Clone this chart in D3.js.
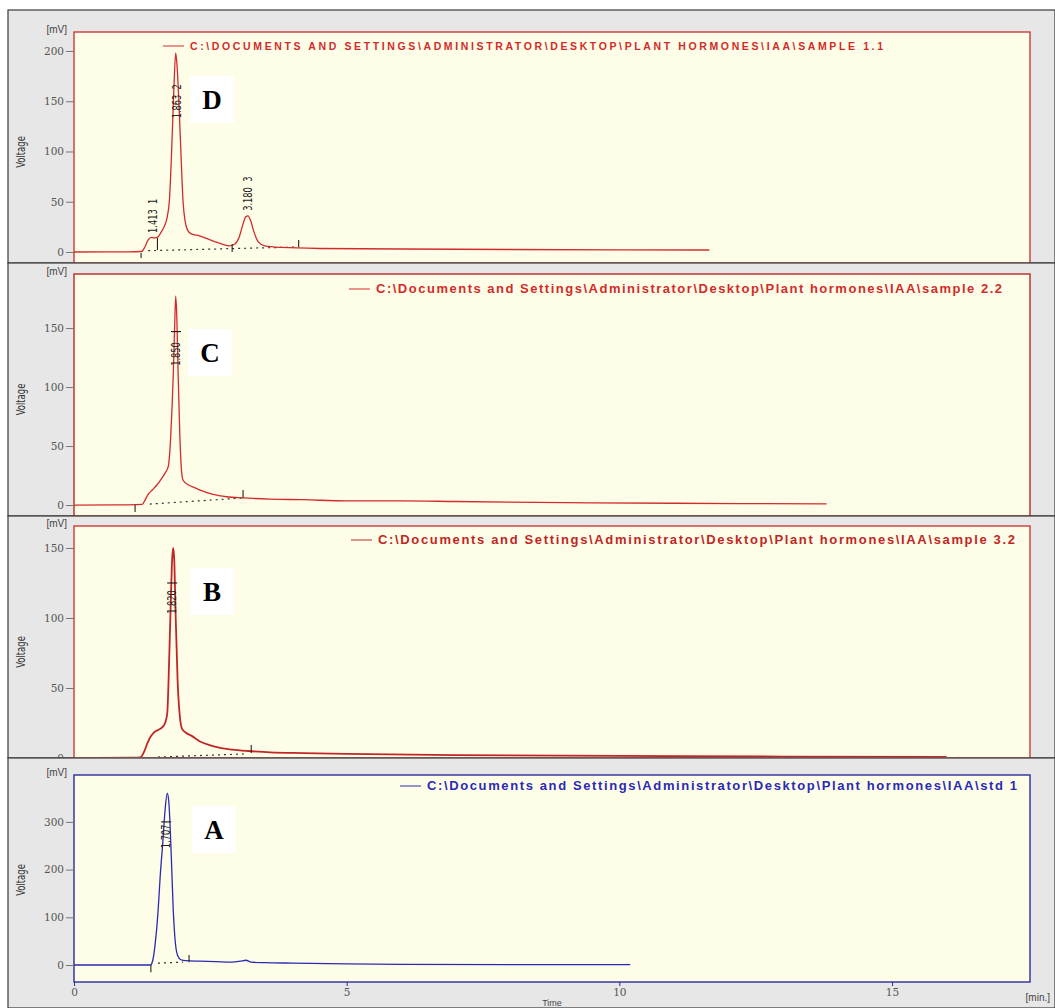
<!DOCTYPE html>
<html>
<head>
<meta charset="utf-8">
<script src="https://cdn.jsdelivr.net/npm/d3@7"></script>
<style>
  body { margin: 0; background: #fff; }
  svg { display: block; }
</style>
</head>
<body>
<svg id="chart" width="1055" height="1008"></svg>
<script>
// ---- data: [time (min), signal (mV)] ----
const timeTicks = [0, 5, 10, 15]

const sample11 = [[0,0],[1.0,0.2],[1.24,0.5],[1.30,5],[1.36,12],[1.42,14.5],[1.48,14],[1.54,15],[1.60,20],[1.66,26],[1.71,35],[1.75,52],[1.79,100],[1.83,160],[1.865,198],[1.89,185],[1.93,140],[1.96,100],[2.0,50],[2.04,30],[2.08,22],[2.15,18],[2.3,16],[2.45,13],[2.65,9],[2.85,6],[2.95,8],[3.03,15],[3.10,28],[3.15,35],[3.19,36],[3.24,31],[3.30,20],[3.38,10],[3.5,6],[3.8,4.5],[4.5,3.5],[6,3],[8,2.5],[10,2.2],[11.65,2]]
const sample22 = [[0,0],[1.0,0.2],[1.25,0.5],[1.30,4],[1.36,9],[1.44,13],[1.52,17],[1.60,22],[1.67,27],[1.73,33],[1.77,55],[1.80,85],[1.82,110],[1.845,150],[1.865,177],[1.885,160],[1.91,110],[1.94,60],[1.97,30],[2.0,21],[2.1,17],[2.2,15],[2.35,12],[2.55,9],[2.8,7],[3.1,6],[3.6,5],[4.2,4.5],[5,3.5],[6,3.5],[7,3],[9,2],[11,1.5],[13.8,1]]
const sample32 = [[0,0],[1.1,0.2],[1.22,0.5],[1.28,4],[1.34,10],[1.40,15],[1.46,18],[1.54,20],[1.62,22],[1.67,25],[1.71,32],[1.745,70],[1.77,105],[1.80,142],[1.82,150],[1.84,140],[1.865,100],[1.90,55],[1.94,30],[1.98,21],[2.05,18],[2.15,16],[2.3,12],[2.5,9],[2.7,7],[2.9,6],[3.2,5],[3.6,4],[4.2,3.5],[5,3],[7,2],[10,1.5],[13,1],[16,0.8]]
const std1 = [[0,0],[1.0,0],[1.40,0],[1.44,8],[1.49,46],[1.54,110],[1.58,185],[1.63,260],[1.67,325],[1.71,360],[1.74,340],[1.78,240],[1.82,115],[1.86,45],[1.90,20],[1.96,11],[2.05,9],[2.3,8],[2.6,7],[2.9,6],[3.05,8],[3.15,10],[3.25,6],[3.5,5],[4,4],[5,2.5],[6,1.5],[8,1],[10.2,1]]

// integration baselines (dotted) and marker ticks [t, v0, v1]
const baseD = [[1.36,1.3],[4.12,5]]
const baseC = [[1.39,0.8],[3.10,6]]
const baseB = [[1.54,0.7],[3.14,2.9]]
const baseA = [[1.54,4],[2.0,6]]
const ticksD = [[1.23,-1,-6],[1.53,14,2],[2.9,8,0],[4.12,12,5]]
const ticksC = [[1.12,0,-6],[3.10,12.7,6]]
const ticksB = [[3.25,9.3,3.6]]
const ticksA = [[1.41,0,-15],[2.11,21,6]]

// peak labels: retention time text, anchored at [t, v]
const peaksD = [{t:1.45, v:19, text:'1.413  1'}, {t:1.89, v:133, text:'1.863  2'}, {t:3.19, v:41, text:'3.180  3'}]
const peaksC = [{t:1.87, v:118, text:'1.850', bar:147}]
const peaksB = [{t:1.80, v:103, text:'1.820', bar:125}]
const peaksA = [{t:1.69, v:245, text:'1.707', bar:300}]

const legendD = 'C:\\DOCUMENTS AND SETTINGS\\ADMINISTRATOR\\DESKTOP\\PLANT HORMONES\\IAA\\SAMPLE 1.1'
const legendC = 'C:\\Documents and Settings\\Administrator\\Desktop\\Plant hormones\\IAA\\sample 2.2'
const legendB = 'C:\\Documents and Settings\\Administrator\\Desktop\\Plant hormones\\IAA\\sample 3.2'
const legendA = 'C:\\Documents and Settings\\Administrator\\Desktop\\Plant hormones\\IAA\\std 1'

const red = '#d22b2b', blue = '#2a2ab4'
const narrow = '"Liberation Sans Narrow", "DejaVu Sans Condensed", "Liberation Sans", sans-serif'

// panel layout (pixels)
const panels = [
  { letter: 'D', top: 10, bottom: 263, plotTop: 32, plotBottom: 263, yDomain: [-10.95, 218.9], yTicks: [0,50,100,150,200],
    data: sample11, base: baseD, ticks: ticksD, peaks: peaksD, color: red, border: '#c83a3a',
    legend: legendD, legendX: 163, legendY: 46, legendW: 693, maxSize: 10.5, box: [190, 76] },
  { letter: 'C', top: 263, bottom: 516, plotTop: 274, plotBottom: 516, yDomain: [-9.3, 195.8], yTicks: [0,50,100,150],
    data: sample22, base: baseC, ticks: ticksC, peaks: peaksC, color: red, border: '#b52a2a',
    legend: legendC, legendX: 349, legendY: 289, legendW: 626, maxSize: 13, box: [188, 329] },
  { letter: 'B', top: 516, bottom: 758, plotTop: 526, plotBottom: 758, yDomain: [0, 165.7], yTicks: [0,50,100,150],
    data: sample32, base: baseB, ticks: ticksB, peaks: peaksB, color: '#c02626', width: 1.8, border: '#c83a3a',
    legend: legendB, legendX: 351, legendY: 540, legendW: 637, maxSize: 13, box: [190, 568] },
  { letter: 'A', top: 758, bottom: 1008, plotTop: 775, plotBottom: 982, yDomain: [-35.6, 398.3], yTicks: [0,100,200,300],
    data: std1, base: baseA, ticks: ticksA, peaks: peaksA, color: blue, border: '#2b2b9b',
    legend: legendA, legendX: 400, legendY: 786, legendW: 590, maxSize: 13, box: [192, 806], xAxis: true }
]

const svg = d3.select('#chart')
const plotLeft = 74, plotRight = 1030
const x = d3.scaleLinear().domain([0, 17.53]).range([plotLeft, plotRight])

panels.forEach((p, i) => {
  const g = svg.append('g').attr('class', 'panel')
  const y = d3.scaleLinear().domain(p.yDomain).range([p.plotBottom, p.plotTop])

  // grey window background
  g.append('rect')
    .attr('x', 8).attr('y', p.top)
    .attr('width', 1055 - 8).attr('height', p.bottom - p.top)
    .attr('fill', '#e7e7e7')
    .attr('stroke', '#3a3a3a').attr('stroke-width', 1.2)

  // cream plot area
  g.append('rect')
    .attr('x', plotLeft).attr('y', p.plotTop)
    .attr('width', plotRight - plotLeft).attr('height', p.plotBottom - p.plotTop)
    .attr('fill', '#fefee8')
    .attr('stroke', p.border).attr('stroke-width', 1.4)

  const clipId = `clip-${i}`
  g.append('clipPath').attr('id', clipId)
    .append('rect')
    .attr('x', plotLeft).attr('y', p.plotTop)
    .attr('width', plotRight - plotLeft).attr('height', p.plotBottom - p.plotTop - 1)

  // y axis
  const yAxis = g.append('g')
    .attr('transform', `translate(${plotLeft},0)`)
    .call(d3.axisLeft(y).tickValues(p.yTicks).tickSize(8).tickPadding(2).tickFormat(d3.format('d')))
  yAxis.select('.domain').remove()
  yAxis.selectAll('line').attr('stroke', '#777')
  yAxis.selectAll('text')
    .attr('font-family', '"DejaVu Serif", serif')
    .attr('font-size', 10.5)
    .attr('fill', '#555')

  g.append('text')
    .attr('x', 67).attr('y', p.plotTop + 1)
    .attr('text-anchor', 'end')
    .attr('font-family', '"Liberation Sans", Arial, sans-serif')
    .attr('font-size', 10)
    .attr('fill', '#444')
    .text('[mV]')

  g.append('text')
    .attr('transform', `translate(25,${(p.plotTop + y(0)) / 2 + 10}) rotate(-90) scale(0.82,1)`)
    .attr('text-anchor', 'middle')
    .attr('font-family', narrow)
    .attr('font-size', 11.5)
    .attr('fill', '#333')
    .text('Voltage')

  const inner = g.append('g').attr('clip-path', `url(#${clipId})`)

  // dotted integration baseline
  inner.append('path')
    .datum(p.base)
    .attr('d', d3.line().x(d => x(d[0])).y(d => y(d[1])))
    .attr('stroke', '#333').attr('stroke-width', 1.2)
    .attr('stroke-dasharray', '2,4')
    .attr('fill', 'none')

  // signal
  inner.append('path')
    .datum(p.data)
    .attr('d', d3.line().x(d => x(d[0])).y(d => y(d[1])).curve(d3.curveMonotoneX))
    .attr('stroke', p.color).attr('stroke-width', p.width || 1.3)
    .attr('fill', 'none')

  // peak start / end marks
  inner.selectAll('.mark')
    .data(p.ticks)
    .join('line')
    .attr('class', 'mark')
    .attr('x1', d => x(d[0])).attr('x2', d => x(d[0]))
    .attr('y1', d => y(d[1])).attr('y2', d => y(d[2]))
    .attr('stroke', '#222').attr('stroke-width', 1.1)

  // retention time labels
  const peak = inner.selectAll('.peak')
    .data(p.peaks)
    .join('g')
    .attr('class', 'peak')
  peak.filter(d => d.bar != null)
    .append('line')
    .attr('x1', d => x(d.t) - 5).attr('x2', d => x(d.t) + 5)
    .attr('y1', d => y(d.bar)).attr('y2', d => y(d.bar))
    .attr('stroke', '#222').attr('stroke-width', 1.2)
  peak.append('text')
    .attr('transform', d => `translate(${x(d.t) + 4},${y(d.v)}) rotate(-90) scale(0.8,1)`)
    .attr('font-family', narrow)
    .attr('font-size', 11.5)
    .attr('fill', '#222')
    .attr('xml:space', 'preserve')
    .style('white-space', 'pre')
    .text(d => d.text)

  // legend: grow the font until it nearly fills the measured width, then spread
  g.append('line')
    .attr('x1', p.legendX).attr('x2', p.legendX + 21)
    .attr('y1', p.legendY).attr('y2', p.legendY)
    .attr('stroke', p.color).attr('stroke-width', 1)
  const legendText = g.append('text')
    .attr('x', p.legendX + 27).attr('y', p.legendY + 4)
    .attr('font-family', '"Liberation Sans", Arial, sans-serif')
    .attr('font-weight', 'bold')
    .attr('font-size', 10)
    .attr('fill', p.color)
    .text(p.legend)
  const natural = legendText.node().getComputedTextLength()
  const size = Math.min(p.maxSize, 10 * p.legendW * 0.92 / natural)
  legendText
    .attr('font-size', size.toFixed(2))
    .attr('textLength', p.legendW)
    .attr('lengthAdjust', 'spacing')

  // panel letter
  g.append('rect')
    .attr('x', p.box[0]).attr('y', p.box[1])
    .attr('width', 44).attr('height', 47)
    .attr('fill', '#fff')
  g.append('text')
    .attr('x', p.box[0] + 22).attr('y', p.box[1] + 33)
    .attr('text-anchor', 'middle')
    .attr('font-family', '"Liberation Serif", "Times New Roman", serif')
    .attr('font-weight', 'bold')
    .attr('font-size', 27)
    .attr('fill', '#000')
    .text(p.letter)

  if (p.xAxis) {
    const xAxis = g.append('g')
      .attr('transform', `translate(0,${p.plotBottom})`)
      .call(d3.axisBottom(x).tickValues(timeTicks).tickSize(4).tickPadding(3))
    xAxis.select('.domain').remove()
    xAxis.selectAll('line').attr('stroke', p.border)
    xAxis.selectAll('text')
      .attr('font-family', '"DejaVu Serif", serif')
      .attr('font-size', 10.5)
      .attr('fill', '#555')

    g.append('text')
      .attr('x', 1050).attr('y', 1001)
      .attr('text-anchor', 'end')
      .attr('font-family', '"Liberation Sans", Arial, sans-serif')
      .attr('font-size', 10)
      .attr('fill', '#444')
      .text('[min.]')
    g.append('text')
      .attr('x', 552).attr('y', 1006)
      .attr('text-anchor', 'middle')
      .attr('font-family', '"Liberation Sans", Arial, sans-serif')
      .attr('font-size', 9)
      .attr('fill', '#444')
      .text('Time')
  }
})
</script>
</body>
</html>
